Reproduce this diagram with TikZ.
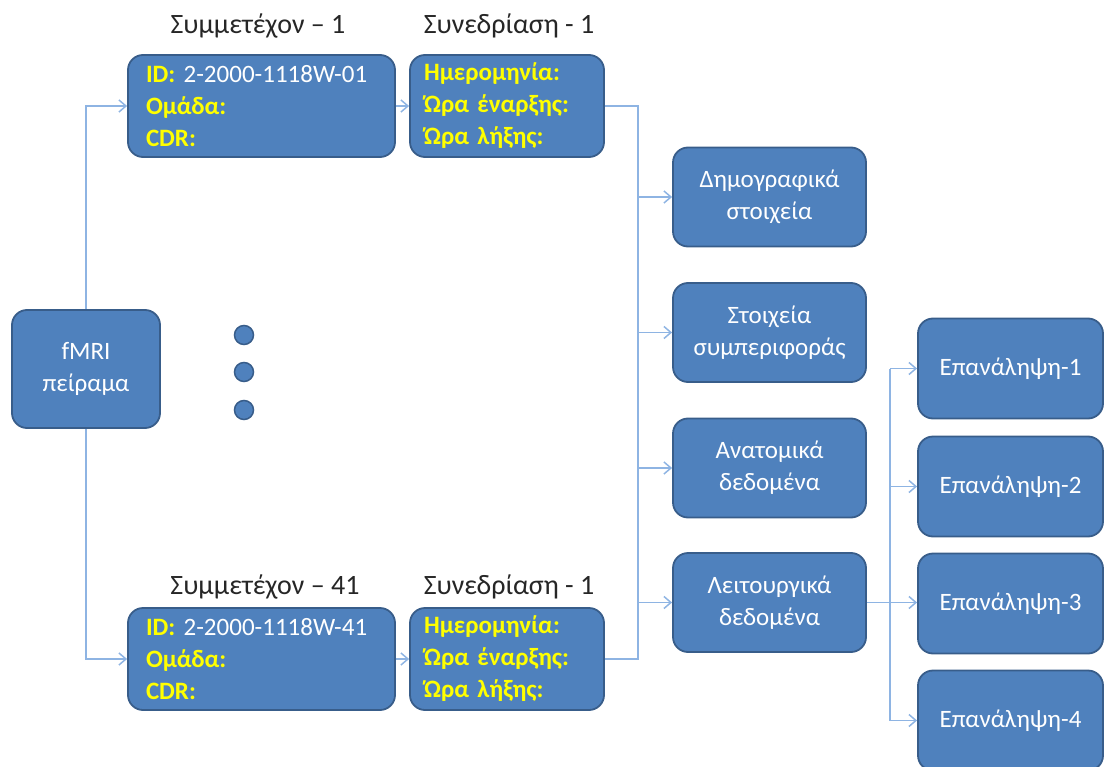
\documentclass[tikz,border=0pt]{standalone}
\usepackage{fontspec}
\setmainfont{Carlito}
\usetikzlibrary{arrows.meta}

\definecolor{boxfill}{HTML}{4F81BD}
\definecolor{boxline}{HTML}{385D8A}
\definecolor{wirecol}{HTML}{8EB4E3}
\definecolor{lblcol}{HTML}{FFFF00}
\definecolor{ttlcol}{HTML}{262626}

\newcommand\boxfont{\fontsize{25}{32}\selectfont}
\newcommand\titlefont{\fontsize{28}{32}\selectfont}
\newcommand\lab[1]{\textcolor{lblcol}{\bfseries #1}}

\tikzset{
  box/.style={draw=boxline, line width=1.8pt, fill=boxfill, rounded corners=15pt,
              text=white, font=\boxfont, align=center, inner sep=0pt},
  midbox/.style={box, minimum width=193, minimum height=99},
  repbox/.style={box, minimum width=185, minimum height=100},
  infobox/.style={box, align=left, minimum height=102},
  ttl/.style={text=ttlcol, font=\titlefont, anchor=base, inner sep=0pt},
  dot/.style={circle, draw=boxline, line width=1.5pt, fill=boxfill, minimum size=19, inner sep=0pt},
  wire/.style={draw=wirecol, line width=1.5pt},
  arr/.style={wire, -{Straight Barb[length=7pt, width=12pt, line width=1.5pt]}}
}

\begin{document}
\begin{tikzpicture}[x=1pt, y=-1pt]
\useasboundingbox (0,0) rectangle (1105,767);
\clip (0,0) rectangle (1105,767);

% root
\node[box, minimum width=148, minimum height=118] (fmri) at (86,369) {fMRI\\πείραμα};

% participant 1 and its session
\node[ttl] (tp1) at (258,34) {Συμμετέχον – 1};
\node[ttl] (ts1) at (509,34) {Συνεδρίαση - 1};
\node[infobox, minimum width=267, text width=231, inner xsep=18] (p1) at (261.5,106)
  {\lab{ID:} 2-2000-1118W-01\\\lab{Ομάδα:}\\\lab{CDR:}};
\node[infobox, minimum width=194, text width=166, inner xsep=14] (s1) at (507,106)
  {\lab{Ημερομηνία:}\\\lab{Ώρα έναρξης:}\\\lab{Ώρα λήξης:}};

% ellipsis
\node[dot] (d1) at (244,335) {};
\node[dot] (d2) at (244,372) {};
\node[dot] (d3) at (244,410) {};

% participant 41 and its session
\node[ttl] (tp41) at (265,594) {Συμμετέχον – 41};
\node[ttl] (ts41) at (509,594) {Συνεδρίαση - 1};
\node[infobox, minimum width=267, text width=231, inner xsep=18] (p41) at (261.5,659)
  {\lab{ID:} 2-2000-1118W-41\\\lab{Ομάδα:}\\\lab{CDR:}};
\node[infobox, minimum width=194, text width=166, inner xsep=14] (s41) at (507,659)
  {\lab{Ημερομηνία:}\\\lab{Ώρα έναρξης:}\\\lab{Ώρα λήξης:}};

% data categories
\node[midbox] (demo) at (769.5,197) {Δημογραφικά\\στοιχεία};
\node[midbox] (behav) at (769.5,332.5) {Στοιχεία\\συμπεριφοράς};
\node[midbox] (anat) at (769.5,468) {Ανατομικά\\δεδομένα};
\node[midbox] (func) at (769.5,602.5) {Λειτουργικά\\δεδομένα};

% runs
\node[repbox] (r1) at (1010.5,368.5) {Επανάληψη-1};
\node[repbox] (r2) at (1010.5,486.5) {Επανάληψη-2};
\node[repbox] (r3) at (1010.5,603.5) {Επανάληψη-3};
\node[repbox] (r4) at (1010.5,720.5) {Επανάληψη-4};

% bus positions
\coordinate (busm) at (638,0);
\coordinate (busr) at (890,0);

% connectors
\draw[arr] (fmri.north) |- (p1.west);
\draw[arr] (fmri.south) |- (p41.west);
\draw[arr] (p1.east) -- (s1.west);
\draw[arr] (p41.east) -- (s41.west);

\draw[wire] (s1.east) -- (s1.east -| busm) -- (s41.east -| busm) -- (s41.east);
\draw[arr] (demo.west -| busm) -- (demo.west);
\draw[arr] (behav.west -| busm) -- (behav.west);
\draw[arr] (anat.west -| busm) -- (anat.west);
\draw[arr] (func.west -| busm) -- (func.west);

\draw[wire] (r1.west -| busr) -- (r4.west -| busr);
\draw[arr] (func.east) -- (func.east -| r3.west);
\draw[arr] (r1.west -| busr) -- (r1.west);
\draw[arr] (r2.west -| busr) -- (r2.west);
\draw[arr] (r4.west -| busr) -- (r4.west);
\end{tikzpicture}
\end{document}
